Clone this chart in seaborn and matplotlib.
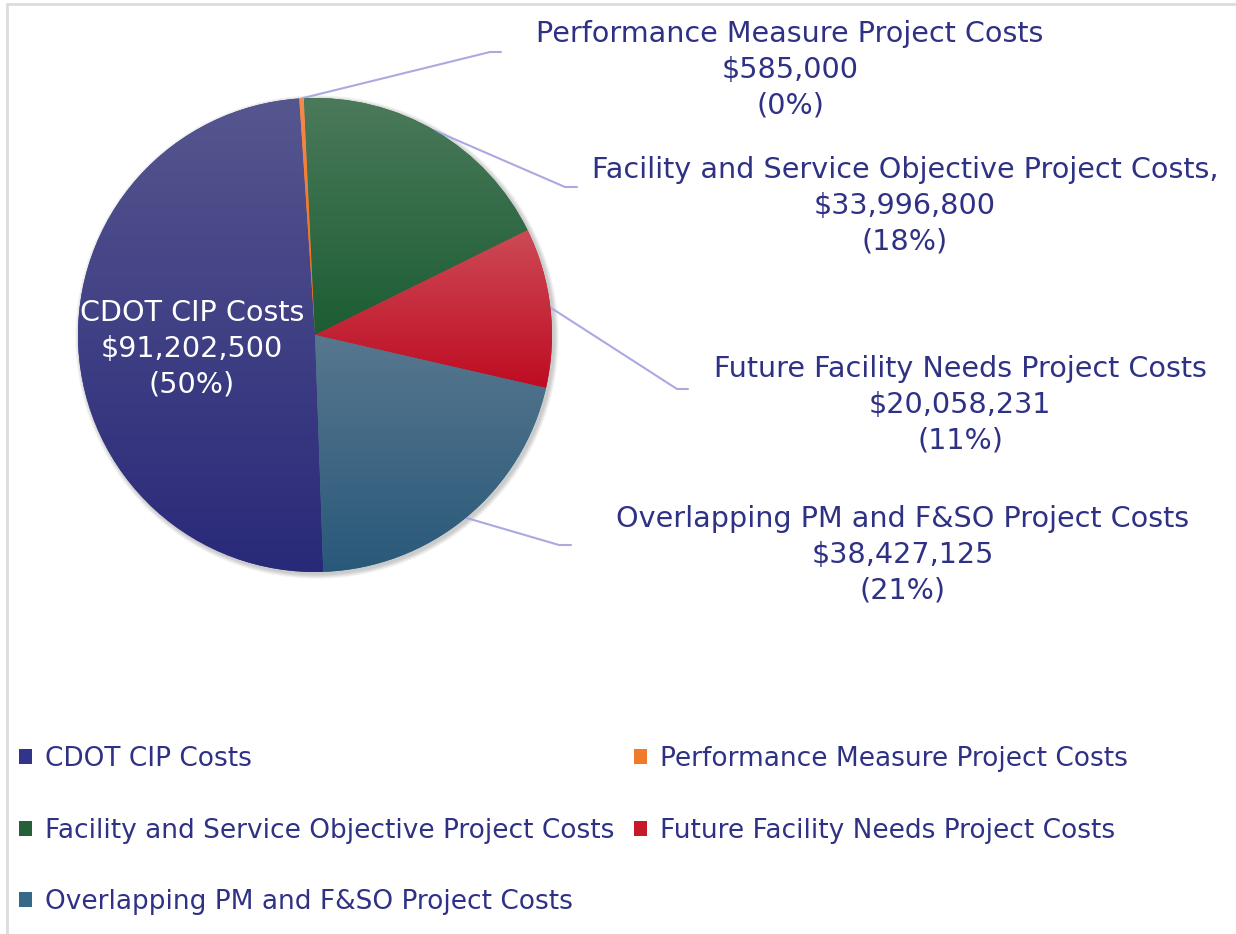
import numpy as np
import matplotlib.pyplot as plt
import seaborn as sns
from matplotlib.patches import Patch, Circle
from matplotlib.colors import to_rgb

sns.set_theme(style="white")
plt.rcParams['font.family'] = ['DejaVu Sans']

# data
categories = ["CDOT CIP Costs",
              "Performance Measure Project Costs",
              "Facility and Service Objective Project Costs",
              "Future Facility Needs Project Costs",
              "Overlapping PM and F&SO Project Costs"]
costs = [91202500, 585000, 33996800, 20058231, 38427125]
pct_labels = [50, 0, 18, 11, 21]   # as printed on the chart
label_heads = ["CDOT CIP Costs",
               "Performance Measure Project Costs",
               "Facility and Service Objective Project Costs,",
               "Future Facility Needs Project Costs",
               "Overlapping PM and F&SO Project Costs"]

# gradient colours per slice (top, bottom)
tops = ["#56568f", "#f58a4e", "#4b7a5b", "#cd4a56", "#57778e"]
bottoms = ["#29297a", "#ec6a0e", "#1c5d33", "#be0c22", "#29597a"]
base = ["#33338a", "#f07a2a", "#25603a", "#c41a2b", "#376987"]
text_col = "#2f3185"
line_col = "#aaa9e2"

W, H = 1236, 934
fig = plt.figure(figsize=(W / 100, H / 100), dpi=100)
ax = fig.add_axes([0, 0, 1, 1])

cx, cy, R = 315, H - 335, 237

# soft shadow behind the pie
for k in range(6, 0, -1):
    ax.add_patch(Circle((cx + 2, cy - 2), R + k * 0.8, color="black",
                        alpha=0.035, lw=0, zorder=0.5))

wedges, _ = ax.pie(costs, colors=base, startangle=90 - 178, counterclock=False,
                   center=(cx, cy), radius=R, frame=True,
                   wedgeprops=dict(linewidth=0))
ax.set_xlim(0, W)
ax.set_ylim(0, H)
ax.set_aspect("equal")
ax.axis("off")

# vertical gradient in each slice
inv = ax.transData.inverted()
for w, t, b in zip(wedges, tops, bottoms):
    bb = w.get_path().get_extents(w.get_transform())
    (x0, y0), (x1, y1) = inv.transform([[bb.x0, bb.y0], [bb.x1, bb.y1]])
    g = np.linspace(0, 1, 256)[:, None, None]
    img = np.array(to_rgb(t))[None, None, :] * (1 - g) + \
        np.array(to_rgb(b))[None, None, :] * g
    im = ax.imshow(img, extent=(x0, x1, y0, y1), origin="upper",
                   aspect="auto", zorder=2)
    im.set_clip_path(w)
ax.set_xlim(0, W)
ax.set_ylim(0, H)

texts = [f"{h}\n${c:,.0f}\n({p}%)" for h, c, p in zip(label_heads, costs, pct_labels)]

fs = 20.6
# inside label for the big slice
ax.text(192, H - 349, texts[0], color="white", fontsize=fs, ha="center",
        va="center", linespacing=1.35, zorder=5)

# outside labels with leader lines (kink points are layout)
label_pos = {1: (790, 70), 2: (905, 206), 3: (960, 405), 4: (903, 555)}
kinks = {1: [(490, 52), (501, 52)], 2: [(565, 187), (577, 187)],
         3: [(677, 389), (688, 389)], 4: [(559, 545), (571, 545)]}
for i, (lx, ly) in label_pos.items():
    w = wedges[i]
    mid = np.deg2rad((w.theta1 + w.theta2) / 2)
    sx, sy = cx + R * np.cos(mid), cy + R * np.sin(mid)
    pts = [(sx, sy)] + [(kx, H - ky) for kx, ky in kinks[i]]
    ax.plot([p[0] for p in pts], [p[1] for p in pts], color=line_col,
            lw=1.5, zorder=1)
    ax.text(lx, H - ly, texts[i], color=text_col, fontsize=fs, ha="center",
            va="center", linespacing=1.35)

# legend, two columns filled row by row
def handle(i):
    return Patch(facecolor=base[i], edgecolor="none")

leg_kw = dict(frameon=False, fontsize=19, labelcolor=text_col,
              handlelength=0.5, handleheight=0.5, handletextpad=0.5,
              labelspacing=1.73, borderpad=0, borderaxespad=0,
              loc="upper left", bbox_transform=ax.transData)
left = [0, 2, 4]
right = [1, 3]
leg1 = ax.legend([handle(i) for i in left], [categories[i] for i in left],
                 bbox_to_anchor=(19, H - 746), **leg_kw)
ax.add_artist(leg1)
ax.legend([handle(i) for i in right], [categories[i] for i in right],
          bbox_to_anchor=(634, H - 746), **leg_kw)

# chart border remnants
ax.plot([7, W], [H - 4, H - 4], color="#dcdcdc", lw=2, zorder=0)
ax.plot([7, 7], [0, H - 4], color="#dcdcdc", lw=2, zorder=0)

fig.savefig("out.png", dpi=100)
